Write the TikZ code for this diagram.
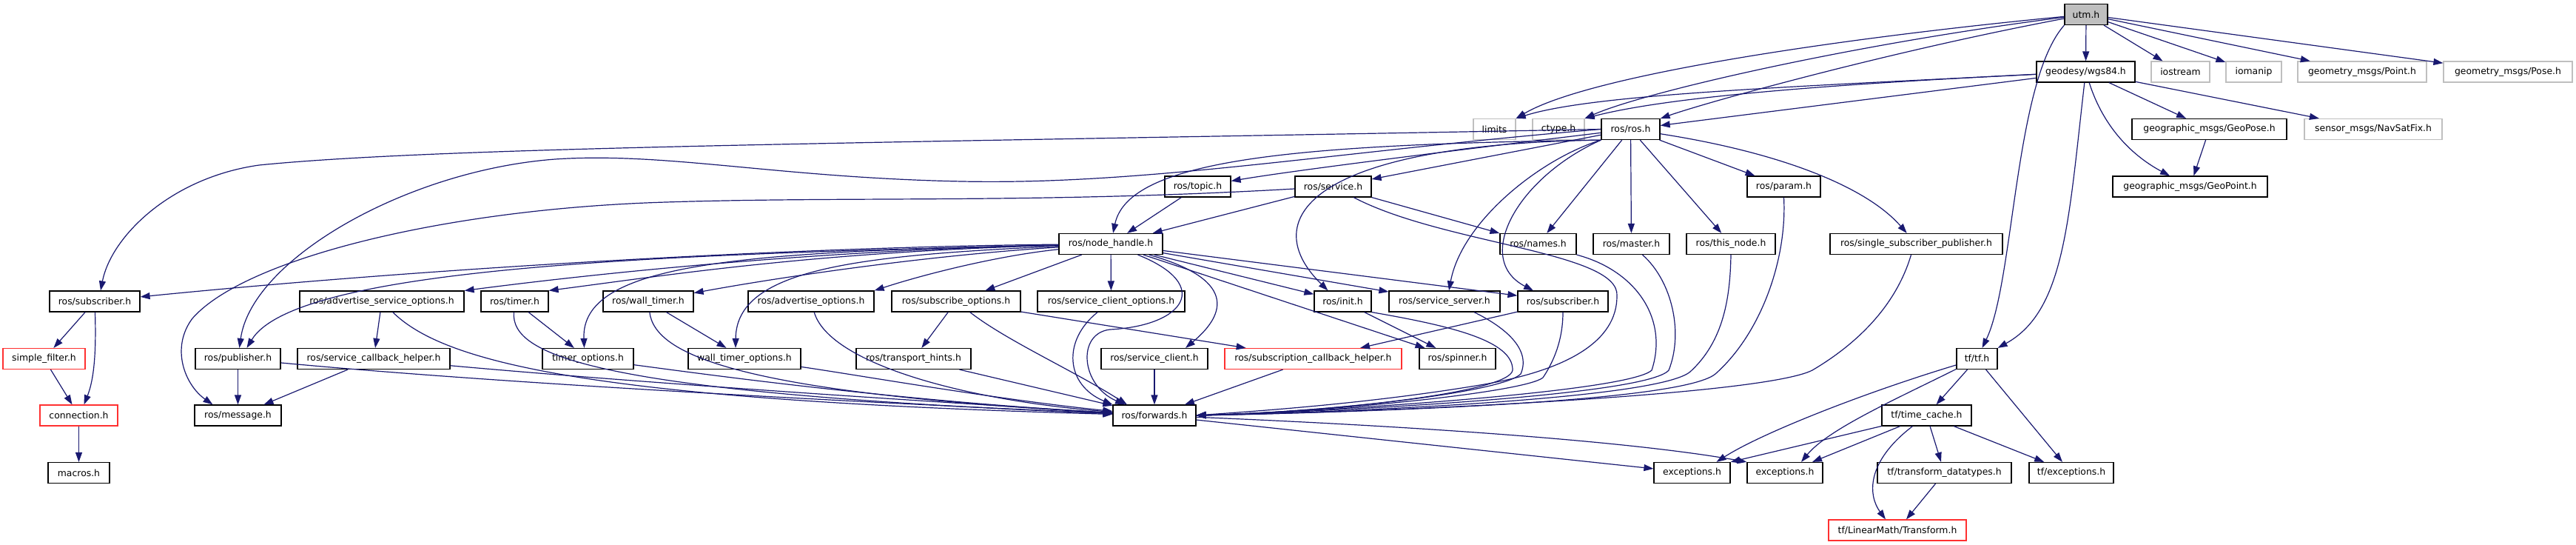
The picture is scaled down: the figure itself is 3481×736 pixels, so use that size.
\documentclass[tikz,border=0pt]{standalone}
\usepackage{fontspec}
\setmainfont{DejaVu Sans}
\usetikzlibrary{arrows.meta}
\definecolor{edgecol}{HTML}{191970}
\definecolor{ghostcol}{HTML}{BFBFBF}
\definecolor{redcol}{HTML}{FF3030}
\definecolor{rootfill}{HTML}{BFBFBF}
\tikzset{
  box/.style={draw=black, line width=1.2pt, fill=white, minimum height=28pt, inner sep=0pt,
    font=\fontsize{12.4pt}{14pt}\selectfont},
  ghost/.style={box, draw=ghostcol},
  redbox/.style={box, draw=redcol},
  rootbox/.style={box, fill=rootfill},
  edge/.style={draw=edgecol, line width=1.2pt, -{Triangle[length=13pt,width=9pt]}}
}
\begin{document}
\begin{tikzpicture}[x=1pt,y=-1pt]
\useasboundingbox (0,0) rectangle (3481,736);
% row 0
\node[rootbox, minimum width=58pt] (utm) at (2819,19.5) {utm.h};
% row 1
\node[box, minimum width=133pt] (wgs84) at (2818.5,97) {geodesy/wgs84.h};
\node[ghost, minimum width=79pt] (iostream) at (2946.5,97) {iostream};
\node[ghost, minimum width=75pt] (iomanip) at (3045.5,97) {iomanip};
\node[ghost, minimum width=174pt] (point) at (3192,97) {geometry\_msgs/Point.h};
\node[ghost, minimum width=174pt] (pose) at (3389,97) {geometry\_msgs/Pose.h};
% row 2
\node[ghost, minimum width=57pt] (limits) at (2019.5,174.5) {limits};
\node[ghost, minimum width=70pt] (ctype) at (2106,174.5) {ctype.h};
\node[box, minimum width=79pt] (ros) at (2203.5,174.5) {ros/ros.h};
\node[box, minimum width=209pt] (geopose) at (2985.5,174.5) {geographic\_msgs/GeoPose.h};
\node[ghost, minimum width=186pt] (navsat) at (3207,174.5) {sensor\_msgs/NavSatFix.h};
% row 3
\node[box, minimum width=89pt] (topic) at (1618.5,252) {ros/topic.h};
\node[box, minimum width=103pt] (service) at (1801.5,252) {ros/service.h};
\node[box, minimum width=99pt] (param) at (2410.5,252) {ros/param.h};
\node[box, minimum width=209pt] (geopoint) at (2959.5,252) {geographic\_msgs/GeoPoint.h};
% row 4
\node[box, minimum width=140pt] (nh) at (1501,329.5) {ros/node\_handle.h};
\node[box, minimum width=103pt] (names) at (2078.5,329.5) {ros/names.h};
\node[box, minimum width=103pt] (master) at (2204.5,329.5) {ros/master.h};
\node[box, minimum width=120pt] (thisnode) at (2339,329.5) {ros/this\_node.h};
\node[box, minimum width=233pt] (ssp) at (2589.5,329.5) {ros/single\_subscriber\_publisher.h};
% row 5
\node[box, minimum width=122pt] (subl) at (128,407) {ros/subscriber.h};
\node[box, minimum width=222pt] (aso) at (516,407) {ros/advertise\_service\_options.h};
\node[box, minimum width=91pt] (timer) at (695.5,407) {ros/timer.h};
\node[box, minimum width=122pt] (wtimer) at (876,407) {ros/wall\_timer.h};
\node[box, minimum width=170pt] (advopt) at (1096,407) {ros/advertise\_options.h};
\node[box, minimum width=174pt] (subopt) at (1292,407) {ros/subscribe\_options.h};
\node[box, minimum width=199pt] (sco) at (1501.5,407) {ros/service\_client\_options.h};
\node[box, minimum width=77pt] (init) at (1814.5,407) {ros/init.h};
\node[box, minimum width=150pt] (ss) at (1952,407) {ros/service\_server.h};
\node[box, minimum width=122pt] (subr) at (2112,407) {ros/subscriber.h};
% row 6
\node[redbox, minimum width=111pt] (sfilter) at (59.5,484.5) {simple\_filter.h};
\node[box, minimum width=115pt] (pub) at (321.5,484.5) {ros/publisher.h};
\node[box, minimum width=206pt] (sch) at (505,484.5) {ros/service\_callback\_helper.h};
\node[box, minimum width=123pt] (topt) at (794.5,484.5) {timer\_options.h};
\node[box, minimum width=152pt] (wto) at (1006,484.5) {wall\_timer\_options.h};
\node[box, minimum width=155pt] (th) at (1234.5,484.5) {ros/transport\_hints.h};
\node[box, minimum width=144pt] (sclient) at (1560,484.5) {ros/service\_client.h};
\node[redbox, minimum width=239pt] (scbh) at (1774.5,484.5) {ros/subscription\_callback\_helper.h};
\node[box, minimum width=103pt] (spinner) at (1969.5,484.5) {ros/spinner.h};
\node[box, minimum width=55pt] (tf) at (2671.5,484.5) {tf/tf.h};
% row 7
\node[redbox, minimum width=105pt] (conn) at (106.5,561) {connection.h};
\node[box, minimum width=117pt] (msg) at (321.5,561) {ros/message.h};
\node[box, minimum width=112pt] (fwd) at (1560,561) {ros/forwards.h};
\node[box, minimum width=121pt] (tcache) at (2603.5,561) {tf/time\_cache.h};
% row 8
\node[box, minimum width=83pt] (macros) at (106.5,638.5) {macros.h};
\node[box, minimum width=103pt] (exca) at (2286.5,638.5) {exceptions.h};
\node[box, minimum width=102pt] (excb) at (2412,638.5) {exceptions.h};
\node[box, minimum width=181pt] (tdt) at (2627.5,638.5) {tf/transform\_datatypes.h};
\node[box, minimum width=114pt] (tfexc) at (2799,638.5) {tf/exceptions.h};
% row 9
\node[redbox, minimum width=186pt] (transf) at (2564,716) {tf/LinearMath/Transform.h};

% ---- utm.h
\draw[edge] (utm) .. controls (2500,50) and (2150,100) .. (limits.north east);
\draw[edge] (utm) .. controls (2500,60) and (2220,125) .. (ctype.north east);
\draw[edge] (utm) .. controls (2550,70) and (2300,140) .. (ros);
\draw[edge] (utm) -- (wgs84);
\draw[edge] (utm) -- (iostream);
\draw[edge] (utm) -- (iomanip);
\draw[edge] (utm) -- (point);
\draw[edge] (utm) -- (pose);
\draw[edge] (utm.south west) .. controls (2722,110) and (2722,380) .. (tf);
% ---- wgs84
\draw[edge] (wgs84) .. controls (2400,118) and (2150,128) .. (limits.north east);
\draw[edge] (wgs84) .. controls (2450,115) and (2250,132) .. (ctype.north east);
\draw[edge] (wgs84) -- (ros);
\draw[edge] (wgs84) .. controls (2795,300) and (2790,420) .. (tf.north east);
\draw[edge] (wgs84) .. controls (2845,180) and (2890,215) .. (geopoint);
\draw[edge] (wgs84) -- (geopose);
\draw[edge] (wgs84) -- (navsat);
\draw[edge] (geopose) -- (geopoint);
% ---- ros.h
\draw[edge] (ros) .. controls (1950,205) and (1750,230) .. (topic);
\draw[edge] (ros) -- (service);
\draw[edge] (ros) -- (param);
\draw[edge] (ros) -- (names);
\draw[edge] (ros) -- (master);
\draw[edge] (ros) -- (thisnode);
\draw[edge] (ros) .. controls (2400,205) and (2520,250) .. (ssp);
\draw[edge] (ros.south west) .. controls (1750,195) and (1525,215) .. (nh);
\draw[edge] (ros.south west) .. controls (1760,195) and (1700,300) .. ([xshift=-20pt]init.north);
\draw[edge] (ros.south west) .. controls (2080,215) and (1975,300) .. ([xshift=6pt]ss.north);
\draw[edge] (ros.south west) .. controls (2050,240) and (1990,350) .. ([xshift=-40pt]subr.north);
\draw[edge] (ros.west) .. controls (1200,193) and (600,198) .. (350,223)
   .. controls (230,240) and (150,320) .. ([xshift=8pt]subl.north);
\draw[edge] (ros.west) .. controls (1800,205) and (1550,250) .. (1300,245)
   .. controls (1050,240) and (900,205) .. (750,215)
   .. controls (550,230) and (340,350) .. ([xshift=2pt]pub.north);
% ---- service.h
\draw[edge] (service) .. controls (1400,275) and (1150,265) .. (900,273)
   .. controls (600,282) and (330,350) .. (260,430)
   .. controls (230,470) and (250,520) .. ([xshift=-34pt]msg.north);
\draw[edge] (service) -- (nh);
\draw[edge] (service) -- (names);
\draw[edge] (service) .. controls (1950,330) and (2190,340) .. (2185,400)
   .. controls (2185,460) and (2120,500) .. (2000,520)
   .. controls (1850,545) and (1700,555) .. (fwd.east);
\draw[edge] (topic) -- (nh);
% ---- into forwards from the right
\draw[edge] (names.south east) .. controls (2210,365) and (2255,430) .. (2232,500)
   .. controls (2200,530) and (1780,556) .. (fwd.east);
\draw[edge] ([xshift=15pt]master.south) .. controls (2260,380) and (2275,450) .. (2255,500)
   .. controls (2225,535) and (1790,556) .. (fwd.east);
\draw[edge] (thisnode.south) .. controls (2338,400) and (2330,460) .. (2284,502)
   .. controls (2240,540) and (1800,557) .. (fwd.east);
\draw[edge] (param.south) .. controls (2415,350) and (2380,450) .. (2318,505)
   .. controls (2270,545) and (1810,557) .. (fwd.east);
\draw[edge] ([xshift=-7pt]ssp.south) .. controls (2560,420) and (2500,470) .. (2449,500)
   .. controls (2380,535) and (1850,557) .. (fwd.east);
\draw[edge] (init.south east) .. controls (1960,440) and (2045,460) .. (2044,500)
   .. controls (2040,530) and (1800,556) .. (fwd.east);
\draw[edge] ([xshift=40pt]ss.south) .. controls (2030,440) and (2070,470) .. (2055,505)
   .. controls (2030,530) and (1800,556) .. (fwd.east);
\draw[edge] (subr.south) .. controls (2112,450) and (2105,480) .. (2085,510)
   .. controls (2060,530) and (1800,556) .. (fwd.east);
% ---- node_handle.h
\draw[edge] (nh) .. controls (1100,333) and (600,360) .. (subl);
\draw[edge] (nh) .. controls (900,343) and (400,360) .. ([xshift=12pt]pub.north);
\draw[edge] (nh) .. controls (1100,338) and (800,370) .. (aso);
\draw[edge] (nh) .. controls (1100,340) and (900,372) .. (timer.north east);
\draw[edge] (nh) .. controls (1000,340) and (785,355) .. ([xshift=-5pt]topt.north);
\draw[edge] (nh) .. controls (1250,345) and (1050,375) .. (wtimer);
\draw[edge] (nh) .. controls (1150,345) and (995,365) .. ([xshift=-12pt]wto.north);
\draw[edge] (nh) .. controls (1350,345) and (1250,370) .. (advopt.north east);
\draw[edge] (nh) -- (subopt);
\draw[edge] (nh) -- (sco);
\draw[edge] (nh) -- (init);
\draw[edge] (nh) -- (ss);
\draw[edge] (nh) -- (subr);
\draw[edge] (nh) -- (spinner);
\draw[edge] (nh) .. controls (1680,380) and (1650,430) .. ([xshift=42pt]sclient.north);
\draw[edge] (nh) .. controls (1640,385) and (1600,440) .. (1500,445)
   .. controls (1455,450) and (1460,520) .. ([xshift=-40pt]fwd.north);
% ---- row 5 -> lower
\draw[edge] (subopt) -- (th);
\draw[edge] (subopt) -- (scbh);
\draw[edge] (subopt) .. controls (1360,460) and (1450,500) .. ([xshift=-37pt]fwd.north);
\draw[edge] (sco) .. controls (1435,460) and (1440,520) .. (fwd.north west);
\draw[edge] (aso) -- (sch);
\draw[edge] (aso) .. controls (600,490) and (800,540) .. (fwd);
\draw[edge] (timer) -- (topt);
\draw[edge] (timer) .. controls (690,480) and (800,530) .. (fwd);
\draw[edge] (wtimer) -- (wto);
\draw[edge] (wtimer) .. controls (885,480) and (1000,530) .. (fwd);
\draw[edge] (advopt) .. controls (1120,490) and (1300,540) .. (fwd);
\draw[edge] (subr) -- (scbh);
\draw[edge] (init) -- (spinner);
% ---- row 6 -> forwards / message
\draw[edge] (topt) .. controls (950,505) and (1200,540) .. (fwd);
\draw[edge] (wto) .. controls (1150,505) and (1350,540) .. (fwd);
\draw[edge] (th) -- (fwd);
\draw[edge] (sclient) -- (fwd);
\draw[edge] (scbh) -- (fwd);
\draw[edge] (sch) -- (msg);
\draw[edge] (sch) .. controls (900,520) and (1300,545) .. (fwd);
\draw[edge] (pub) -- (msg);
\draw[edge] (pub) .. controls (700,520) and (1200,545) .. (fwd);
% ---- left cluster
\draw[edge] (subl) -- (sfilter);
\draw[edge] (subl) .. controls (130,470) and (128,510) .. ([xshift=7pt]conn.north);
\draw[edge] (sfilter) -- (conn);
\draw[edge] (conn) -- (macros);
% ---- forwards and tf
\draw[edge] (fwd) -- (exca);
\draw[edge] (fwd) .. controls (1900,575) and (2200,595) .. (excb.north west);
\draw[edge] (tf) .. controls (2520,530) and (2380,585) .. ([xshift=33pt]exca.north);
\draw[edge] (tf) .. controls (2560,540) and (2470,580) .. ([xshift=22pt]excb.north);
\draw[edge] (tf) -- (tcache);
\draw[edge] (tf) -- (tfexc);
\draw[edge] (tcache) -- (exca.north east);
\draw[edge] (tcache) -- ([xshift=37pt]excb.north);
\draw[edge] (tcache) -- (tdt);
\draw[edge] (tcache) .. controls (2520,625) and (2525,670) .. ([xshift=-16pt]transf.north);
\draw[edge] (tcache) -- (tfexc);
\draw[edge] (tdt) -- (transf);
\end{tikzpicture}
\end{document}
